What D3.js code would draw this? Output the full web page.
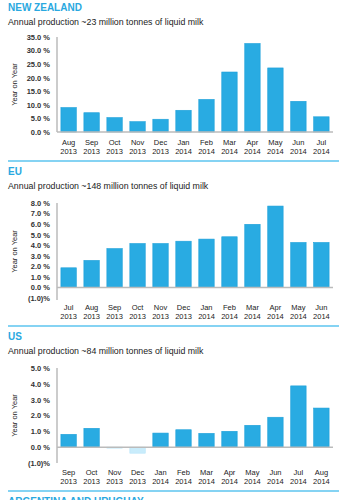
<!DOCTYPE html>
<html>
<head>
<meta charset="utf-8">
<script src="https://cdn.jsdelivr.net/npm/d3@7"></script>
<style>
  body { margin: 0; background: #fff; }
  svg { display: block; font-family: "Liberation Sans", Arial, sans-serif; }
</style>
</head>
<body>
<div id="chart"></div>
<script>
// Data
const nzMonths = ["Aug 2013", "Sep 2013", "Oct 2013", "Nov 2013", "Dec 2013", "Jan 2014",
  "Feb 2014", "Mar 2014", "Apr 2014", "May 2014", "Jun 2014", "Jul 2014"];
const nzValues = [9.0, 7.1, 5.3, 3.8, 4.7, 8.0, 12.0, 22.1, 32.6, 23.6, 11.3, 5.6];
const nzTicks = [0, 5, 10, 15, 20, 25, 30, 35];

const euMonths = ["Jul 2013", "Aug 2013", "Sep 2013", "Oct 2013", "Nov 2013", "Dec 2013",
  "Jan 2014", "Feb 2014", "Mar 2014", "Apr 2014", "May 2014", "Jun 2014"];
const euValues = [1.86, 2.56, 3.68, 4.16, 4.16, 4.38, 4.58, 4.8, 5.98, 7.71, 4.26, 4.26];
const euTicks = [-1, 0, 1, 2, 3, 4, 5, 6, 7, 8];

const usMonths = ["Sep 2013", "Oct 2013", "Nov 2013", "Dec 2013", "Jan 2014", "Feb 2014",
  "Mar 2014", "Apr 2014", "May 2014", "Jun 2014", "Jul 2014", "Aug 2014"];
const usValues = [0.81, 1.19, -0.06, -0.38, 0.89, 1.1, 0.87, 1.0, 1.38, 1.89, 3.87, 2.47];
const usTicks = [-1, 0, 1, 2, 3, 4, 5];

const width = 350, height = 500;
const blue = "#29abe2";

const svg = d3.select("#chart")
  .append("svg")
    .attr("width", width)
    .attr("height", height);

const fmt = d => d < 0 ? `(${d3.format(".1f")(-d)})%` : `${d3.format(".1f")(d)} %`;

const drawPanel = (p) => {
  const g = svg.append("g");

  if (p.sepY != null) {
    g.append("line")
      .attr("x1", 8).attr("x2", 339)
      .attr("y1", p.sepY).attr("y2", p.sepY)
      .attr("stroke", "#5cc4ef")
      .attr("stroke-width", 1.5);
  }

  g.append("text")
    .attr("x", 8).attr("y", p.titleY)
    .attr("fill", "#29a8e0")
    .attr("font-weight", "bold")
    .style("font-size", "10px")
    .text(p.title);

  if (!p.subtitle) return;

  g.append("text")
    .attr("x", 8).attr("y", p.titleY + 13.5)
    .attr("fill", "#222")
    .style("font-size", "8.8px")
    .text(p.subtitle);

  const xScale = d3.scaleBand()
    .domain(p.months)
    .range([57, 333])
    .paddingInner(0.33)
    .paddingOuter(0.17);

  const yScale = d3.scaleLinear()
    .domain(p.domain)
    .range([p.bottom, p.top]);

  // y axis
  const leftAxis = d3.axisLeft(yScale)
    .tickValues(p.ticks)
    .tickFormat(fmt)
    .tickSize(0)
    .tickPadding(7);
  const yAxis = g.append("g")
    .attr("transform", "translate(57, 0)")
    .call(leftAxis);
  yAxis.select(".domain")
    .attr("stroke", "#999")
    .attr("d", `M0,${p.top}V${p.axisEnd}`);
  yAxis.selectAll(".tick text")
    .attr("fill", "#333")
    .attr("font-weight", "bold")
    .style("font-size", "7.5px")
    .style("font-family", "Liberation Sans, Arial, sans-serif");

  // bars
  g.append("g")
    .selectAll("rect")
    .data(p.values)
    .join("rect")
      .attr("x", (d, i) => xScale(p.months[i]))
      .attr("width", xScale.bandwidth())
      .attr("y", d => yScale(Math.max(0, d)))
      .attr("height", d => Math.abs(yScale(d) - yScale(0)))
      .attr("fill", d => d < 0 ? "#c9ecfb" : blue)
      .attr("stroke", d => d < 0 ? "#b5e4f8" : "#1c9fd9")
      .attr("stroke-width", 0.6);

  // zero line
  g.append("line")
    .attr("x1", 57).attr("x2", 333)
    .attr("y1", yScale(0)).attr("y2", yScale(0))
    .attr("stroke", "#bbb")
    .attr("stroke-width", 1.5);

  // x labels
  const labels = g.append("g")
    .selectAll("text")
    .data(p.months)
    .join("text")
      .attr("text-anchor", "middle")
      .attr("fill", "#222")
      .style("font-size", "7.5px");
  labels.append("tspan")
    .attr("x", d => xScale(d) + xScale.bandwidth() / 2)
    .attr("y", p.labelY)
    .text(d => d.split(" ")[0]);
  labels.append("tspan")
    .attr("x", d => xScale(d) + xScale.bandwidth() / 2)
    .attr("y", p.labelY + 9)
    .text(d => d.split(" ")[1]);

  // axis title
  g.append("text")
    .attr("transform", `translate(17, ${(p.top + p.axisEnd) / 2}) rotate(-90)`)
    .attr("text-anchor", "middle")
    .attr("fill", "#222")
    .style("font-size", "7.5px")
    .text("Year on Year");
};

drawPanel({
  title: "NEW ZEALAND", titleY: 11,
  subtitle: "Annual production ~23 million tonnes of liquid milk",
  months: nzMonths, values: nzValues, ticks: nzTicks,
  domain: [0, 35], top: 37, bottom: 132, axisEnd: 132, labelY: 145
});

drawPanel({
  sepY: 161, title: "EU", titleY: 175,
  subtitle: "Annual production ~148 million tonnes of liquid milk",
  months: euMonths, values: euValues, ticks: euTicks,
  domain: [-1, 8], top: 203, bottom: 298, axisEnd: 300, labelY: 310
});

drawPanel({
  sepY: 326, title: "US", titleY: 340,
  subtitle: "Annual production ~84 million tonnes of liquid milk",
  months: usMonths, values: usValues, ticks: usTicks,
  domain: [-1, 5], top: 368, bottom: 463, axisEnd: 463, labelY: 475
});

drawPanel({ sepY: 491, title: "ARGENTINA AND URUGUAY", titleY: 505 });
</script>
</body>
</html>
